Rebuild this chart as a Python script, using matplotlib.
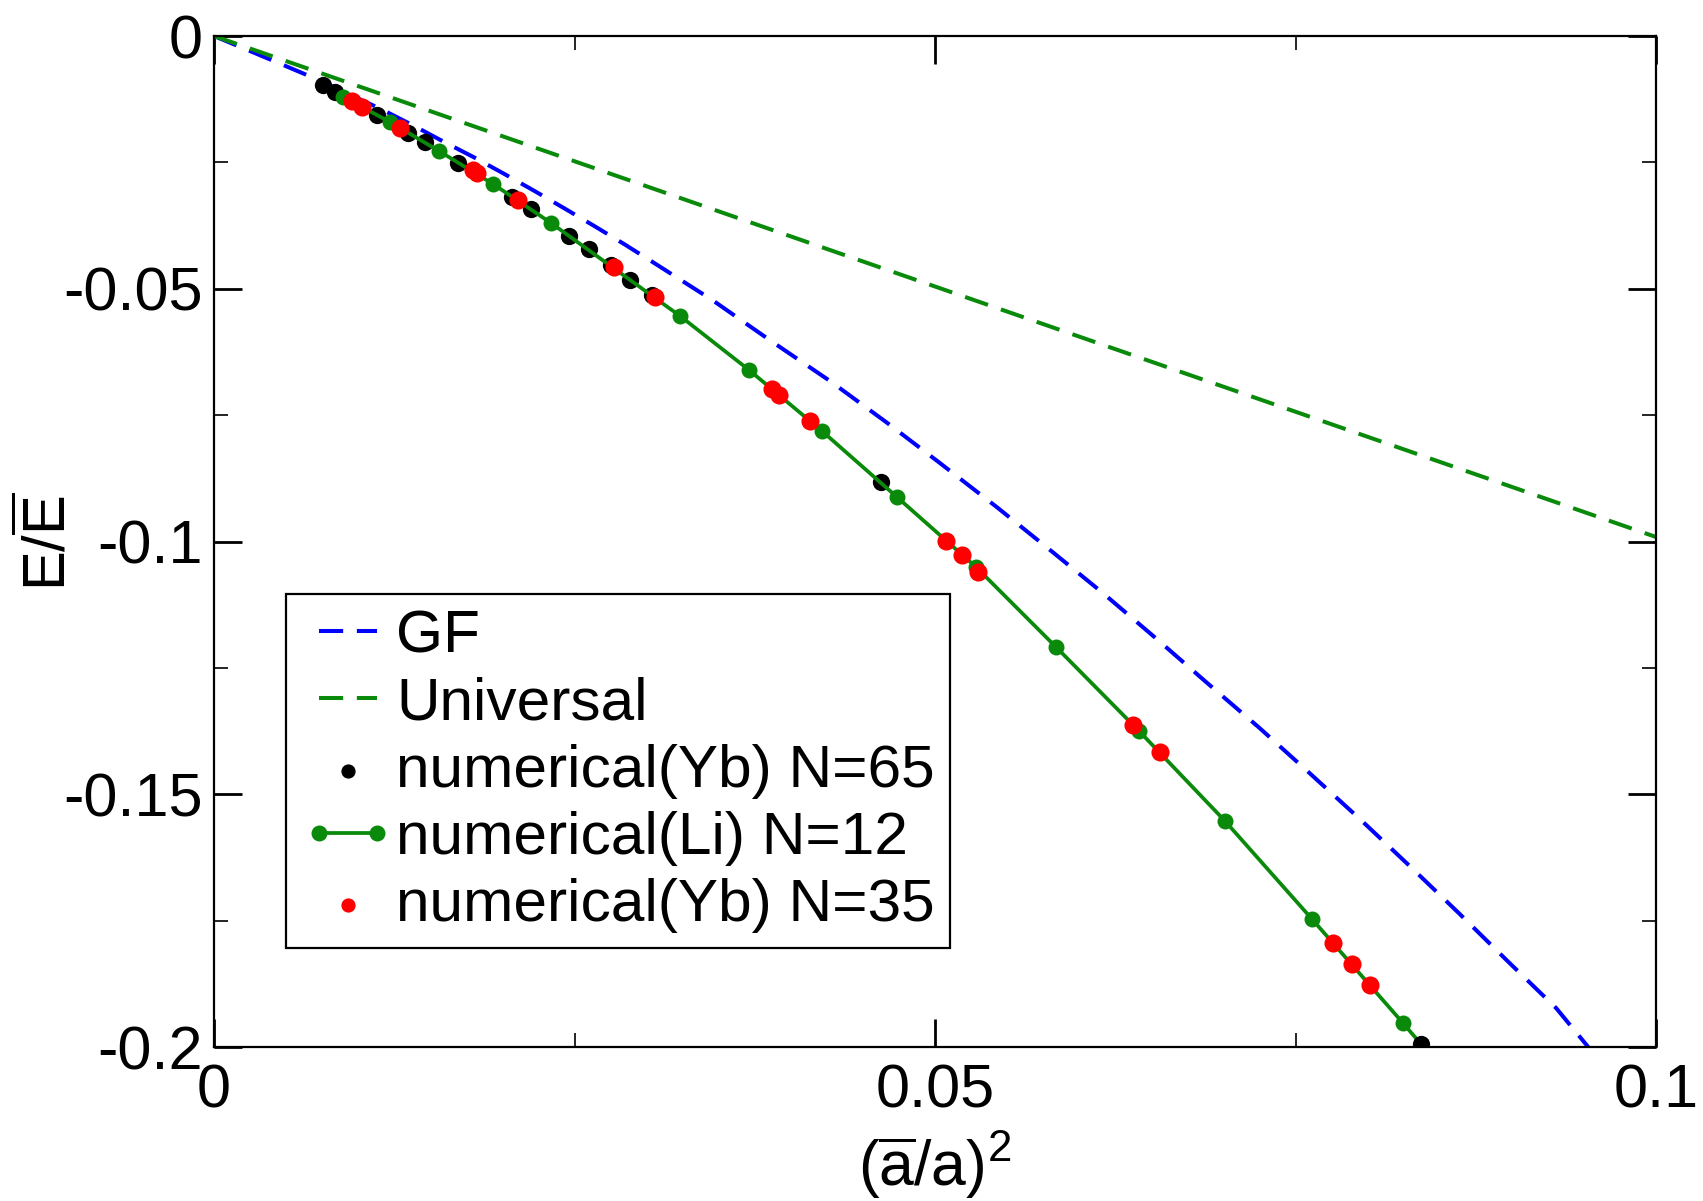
import matplotlib
matplotlib.use('Agg')
import matplotlib.pyplot as plt
from matplotlib.ticker import MultipleLocator

plt.rcParams['font.family'] = ['Liberation Sans', 'DejaVu Sans']
plt.rcParams['mathtext.fontset'] = 'custom'
plt.rcParams['mathtext.rm'] = 'Liberation Sans'
plt.rcParams['mathtext.it'] = 'Liberation Sans:italic'

# GF curve
gf_x = [0.0, 0.00277, 0.00506, 0.00693, 0.01158, 0.01387, 0.01595, 0.01803, 0.02011,
        0.02219, 0.02427, 0.02635, 0.02843, 0.03051, 0.03460, 0.03856, 0.04272, 0.04667,
        0.05035, 0.05430, 0.05798, 0.06158, 0.06526, 0.06886, 0.07247, 0.07601, 0.07954,
        0.08294, 0.08634, 0.08967, 0.09307, 0.09530]
gf_y = [0.0, -0.00330, -0.00605, -0.00831, -0.01445, -0.01778, -0.02095, -0.02400, -0.02725,
        -0.03060, -0.03405, -0.03755, -0.04114, -0.04488, -0.05232, -0.06020, -0.06825, -0.07650,
        -0.08450, -0.09323, -0.10168, -0.11005, -0.11900, -0.12795, -0.13680, -0.14590, -0.15510,
        -0.16425, -0.17355, -0.18290, -0.19228, -0.20000]

# Universal line
uni_x = [0.0, 0.1]
uni_y = [0.0, -0.0991]

# numerical(Yb) N=65
yb65_x = [0.00756, 0.00839, 0.01130, 0.01345, 0.01463, 0.01692, 0.02067, 0.02198,
          0.02462, 0.02601, 0.02753, 0.02885, 0.03037, 0.04626, 0.08370]
yb65_y = [-0.00969, -0.01108, -0.01563, -0.01919, -0.02097, -0.02512, -0.03185, -0.03422,
          -0.03956, -0.04214, -0.04530, -0.04827, -0.05124, -0.08823, -0.19941]

# numerical(Li) N=12
li_x = [0.00895, 0.01221, 0.01560, 0.01935, 0.02337, 0.03232, 0.03710, 0.04216,
        0.04736, 0.05284, 0.05839, 0.06415, 0.07011, 0.07614, 0.08245, 0.08370]
li_y = [-0.01207, -0.01701, -0.02275, -0.02928, -0.03699, -0.05539, -0.06607, -0.07814,
        -0.09120, -0.10504, -0.12087, -0.13749, -0.15529, -0.17468, -0.19525, -0.19941]

# numerical(Yb) N=35
yb35_x = [0.00957, 0.01026, 0.01290, 0.01796, 0.01824, 0.02108, 0.02774, 0.03058,
          0.03870, 0.03918, 0.04133, 0.05076, 0.05187, 0.05298, 0.06373, 0.06560,
          0.07760, 0.07892, 0.08017]
yb35_y = [-0.01286, -0.01405, -0.01820, -0.02651, -0.02710, -0.03244, -0.04570, -0.05163,
          -0.06983, -0.07102, -0.07616, -0.09990, -0.10267, -0.10603, -0.13630, -0.14164,
          -0.17943, -0.18358, -0.18773]

green = '#0a8a0a'

fig = plt.figure(figsize=(17.03, 12.01), dpi=100)
ax = fig.add_axes([0.1257, 0.1282, 0.8467, 0.8418])

ax.plot(gf_x, gf_y, color='#0000ff', lw=2.9, dashes=(6.0, 3.4), label='GF', zorder=2)
ax.plot(uni_x, uni_y, color=green, lw=2.9, dashes=(6.0, 3.4), label='Universal', zorder=2)
ax.scatter(yb65_x, yb65_y, s=155, color='black', lw=0, label='numerical(Yb) N=65', zorder=3)
ax.plot(li_x[:-1], li_y[:-1], color=green, lw=2.7, marker='o', ms=11.5, mew=0,
        label='numerical(Li) N=12', zorder=4)
ax.plot(li_x[-2:], li_y[-2:], color=green, lw=2.7, zorder=2.5)
ax.scatter(yb35_x, yb35_y, s=170, color='#ff0000', lw=0, label='numerical(Yb) N=35', zorder=5)

ax.set_xlim(0, 0.1)
ax.set_ylim(-0.2, 0)
ax.xaxis.set_minor_locator(MultipleLocator(0.025))
ax.yaxis.set_minor_locator(MultipleLocator(0.025))
ax.set_xticks([0, 0.05, 0.1])
ax.set_xticklabels(['0', '0.05', '0.1'])
ax.set_yticks([0, -0.05, -0.1, -0.15, -0.2])
ax.set_yticklabels(['0', '-0.05', '-0.1', '-0.15', '-0.2'])
ax.tick_params(which='both', direction='in', top=True, right=True, labelsize=44)
ax.tick_params(which='major', length=20, width=2.0)
ax.tick_params(which='minor', length=10, width=1.2)
ax.tick_params(axis='x', which='major', pad=12)
ax.tick_params(axis='y', which='major', pad=8)
for sp in ax.spines.values():
    sp.set_linewidth(1.6)

ax.set_xlabel(r'$(\overline{\mathrm{a}}/\mathrm{a})^2$', fontsize=45)
ax.xaxis.set_label_coords(0.5, -0.082)
ax.set_ylabel(r'$\mathrm{E/\overline{E}}$', fontsize=43)
ax.yaxis.set_label_coords(-0.095, 0.5)

leg = ax.legend(loc='lower left', bbox_to_anchor=(0.050, 0.098), fontsize=43.5,
                numpoints=2, scatterpoints=1, frameon=True, fancybox=False,
                edgecolor='black', framealpha=1, handlelength=1.55,
                handletextpad=0.02, labelspacing=0.2, borderpad=0.25,
                borderaxespad=0)
leg.get_frame().set_linewidth(1.6)
for h in leg.legend_handles:
    if hasattr(h, 'set_sizes'):
        h.set_sizes([105])

fig.savefig('out.png', dpi=100)
